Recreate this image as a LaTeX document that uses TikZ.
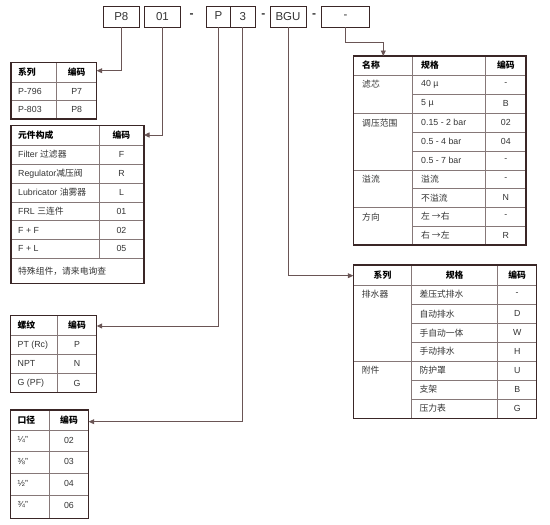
\documentclass[tikz,border=0pt]{standalone}
\usepackage{fontspec}
\setmainfont{Liberation Sans}
\newfontfamily\cjk{Noto Sans CJK SC}
\usetikzlibrary{arrows.meta}
\definecolor{frm}{HTML}{3A2626}
\definecolor{grd}{HTML}{867878}
\definecolor{cnc}{HTML}{6A5555}
\definecolor{txc}{HTML}{333333}
\newcommand\zhs[1]{{\cjk #1}}
\tikzset{
 frame/.style={draw=frm, line width=1.5pt, inner sep=0pt, outer sep=0pt, anchor=north west},
 grid/.style={draw=grd, line width=0.75pt},
 conn/.style={draw=cnc, line width=0.85pt, -{Triangle[length=5.5pt,width=5pt]}},
 txt/.style={text=txc, font=\fontsize{8.8}{10}\selectfont, inner sep=0pt},
 lt/.style={txt, anchor=west},
 hdt/.style={text=black, font=\fontsize{8.8}{10}\selectfont\cjk\bfseries, inner sep=0pt},
 lh/.style={hdt, anchor=west},
 topbox/.style={draw=frm, line width=0.9pt, minimum height=21pt, inner sep=0pt, outer sep=0pt, anchor=north west, text=txc, font=\fontsize{11.5}{12}\selectfont},
 sepd/.style={text=txc, font=\fontsize{12}{12}\selectfont\bfseries, inner sep=0pt},
}
\begin{document}
\begin{tikzpicture}[x=1pt,y=-1pt]
\useasboundingbox (0,0) rectangle (550,525);
% ---------- top code boxes ----------
\node[topbox, minimum width=36pt] (p8) at (103.3,6) {P8};
\node[topbox, minimum width=36.4pt] (b01) at (144.3,6) {01};
\node[sepd] (d1) at (191.7,16) {-};
\node[topbox, minimum width=23.3pt] (bP) at (206.7,6) {\raisebox{2pt}{P}};
\node[topbox, minimum width=25.7pt] (b3) at (230,6) {3};
\node[sepd] (d2) at (263.3,16) {-};
\node[topbox, minimum width=36pt] (bBGU) at (270,6) {BGU};
\node[sepd] (d3) at (314,16) {-};
\node[topbox, minimum width=47.6pt] (bL) at (321.7,6) {-};

% ---------- table 1 ----------
\draw[grid] (11,82.3) -- (96.7,82.3) (11,100.7) -- (96.7,100.7) (56.7,62.3) -- (56.7,119);
\node[frame, minimum width=85.7pt, minimum height=56.7pt] (t1) at (11,62.3) {};
\node[lh] (t1h1) at (18,72.3) {系列};
\node[hdt] (t1h2) at (76.7,72.3) {编码};
\node[lt] (t1a1) at (18,91.5) {P-796};
\node[txt] (t1b1) at (76.7,91.5) {P7};
\node[lt] (t1a2) at (18,109.85) {P-803};
\node[txt] (t1b2) at (76.7,109.85) {P8};

% ---------- table 2 ----------
\foreach \yy in {145,164,183,202,220.7,239.3,258.3} {\draw[grid] (11,\yy) -- (144,\yy);}
\draw[grid] (99,125.7) -- (99,258.3);
\node[frame, minimum width=133pt, minimum height=157.6pt] (t2) at (11,125.7) {};
\node[lh] (t2h1) at (18,135.35) {元件构成};
\node[hdt] (t2h2) at (121.5,135.35) {编码};
\foreach \ya/\ta/\tb [count=\i] in {154.5/{Filter \zhs{过滤器}}/F, 173.5/{Regulator\zhs{减压阀}}/R, 192.5/{Lubricator \zhs{油雾器}}/L, 211.35/{FRL \zhs{三连件}}/01, 230/{F + F}/02, 248.8/{F + L}/05} {
  \node[lt] (t2a\i) at (18,\ya) {\ta};
  \node[txt] (t2b\i) at (121.5,\ya) {\tb};
}
\node[lt] (t2c) at (18,270.8) {\zhs{特殊组件，请来电询查}};

% ---------- table 3 ----------
\foreach \yy in {335.3,354.3,373.3} {\draw[grid] (10.7,\yy) -- (96.7,\yy);}
\draw[grid] (57.3,315.7) -- (57.3,392.7);
\node[frame, minimum width=86pt, minimum height=77pt] (t3) at (10.7,315.7) {};
\node[lh] (t3h1) at (17.5,325.5) {螺纹};
\node[hdt] (t3h2) at (77,325.5) {编码};
\foreach \ya/\ta/\tb [count=\i] in {344.8/{PT (Rc)}/P, 363.8/NPT/N, 383/{G (PF)}/G} {
  \node[lt] (t3a\i) at (17.5,\ya) {\ta};
  \node[txt] (t3b\i) at (77,\ya) {\tb};
}

% ---------- table 4 ----------
\foreach \yy in {430,451.7,473.3,495} {\draw[grid] (10.3,\yy) -- (88.7,\yy);}
\draw[grid] (49.3,410) -- (49.3,518.3);
\node[frame, minimum width=78.4pt, minimum height=108.3pt] (t4) at (10.3,410) {};
\node[lh] (t4h1) at (17.5,420) {口径};
\node[hdt] (t4h2) at (69,420) {编码};
\foreach \ya/\ta/\tb [count=\i] in {440/{¼”}/02, 461.7/{⅜”}/03, 483.2/{½”}/04, 505/{¾”}/06} {
  \node[lt] (t4a\i) at (17.5,\ya) {\ta};
  \node[txt] (t4b\i) at (69,\ya) {\tb};
}

% ---------- table 5 (right top) ----------
\foreach \yy in {75,113.3,170,207.3} {\draw[grid] (353.3,\yy) -- (526,\yy);}
\foreach \yy in {94.3,132.3,151,188.3,226} {\draw[grid] (412.7,\yy) -- (526,\yy);}
\draw[grid] (412.7,56) -- (412.7,245) (485.7,56) -- (485.7,245);
\node[frame, minimum width=172.7pt, minimum height=189pt] (t5) at (353.3,56) {};
\node[lh] (t5h1) at (362,65.5) {名称};
\node[lh] (t5h2) at (421,65.5) {规格};
\node[hdt] (t5h3) at (505.85,65.5) {编码};
\foreach \ya/\ta/\tb/\tc [count=\i] in {
  84.65/{\zhs{滤芯}}/{40 µ}/-,
  103.8/{}/{5 µ}/B,
  122.8/{\zhs{调压范围}}/{0.15 - 2 bar}/02,
  141.65/{}/{0.5 - 4 bar}/04,
  160.5/{}/{0.5 - 7 bar}/-,
  179.15/{\zhs{溢流}}/{\zhs{溢流}}/-,
  197.8/{}/{\zhs{不溢流}}/N,
  216.65/{\zhs{方向}}/{\zhs{左 →右}}/-,
  235.5/{}/{\zhs{右 →左}}/R} {
  \node[lt] (t5a\i) at (362,\ya) {\ta};
  \node[lt] (t5b\i) at (421,\ya) {\tb};
  \node[txt] (t5c\i) at (505.85,\ya) {\tc};
}

% ---------- table 6 (right bottom) ----------
\foreach \yy in {285,361} {\draw[grid] (353.3,\yy) -- (536.7,\yy);}
\foreach \yy in {304,323.3,342.3,380,399} {\draw[grid] (411.7,\yy) -- (536.7,\yy);}
\draw[grid] (411.7,265) -- (411.7,418.3) (497.7,265) -- (497.7,418.3);
\node[frame, minimum width=183.4pt, minimum height=153.3pt] (t6) at (353.3,265) {};
\node[hdt] (t6h1) at (382.5,275) {系列};
\node[hdt] (t6h2) at (454.7,275) {规格};
\node[hdt] (t6h3) at (517.2,275) {编码};
\foreach \ya/\ta/\tb/\tc [count=\i] in {
  294.5/{\zhs{排水器}}/{\zhs{差压式排水}}/-,
  313.65/{}/{\zhs{自动排水}}/D,
  332.8/{}/{\zhs{手自动一体}}/W,
  351.65/{}/{\zhs{手动排水}}/H,
  370.5/{\zhs{附件}}/{\zhs{防护罩}}/U,
  389.5/{}/{\zhs{支架}}/B,
  408.65/{}/{\zhs{压力表}}/G} {
  \node[lt] (t6a\i) at (361.7,\ya) {\ta};
  \node[lt] (t6b\i) at (419.3,\ya) {\tb};
  \node[txt] (t6c\i) at (517.2,\ya) {\tc};
}

% ---------- connectors ----------
\coordinate (bend) at (383.3,42.7);
\draw[conn] (p8.south) |- ([yshift=-8.4pt]t1.north east);
\draw[conn] (b01.south) |- ([yshift=-9.3pt]t2.north east);
\draw[conn] (bP.south) |- ([yshift=-10.3pt]t3.north east);
\draw[conn] (b3.south) |- ([yshift=-11.7pt]t4.north east);
\draw[conn] (bBGU.south) |- ([yshift=-10.7pt]t6.north west);
\draw[conn] (bL.south) |- (bend) -- ([xshift=30pt]t5.north west);
\end{tikzpicture}
\end{document}
